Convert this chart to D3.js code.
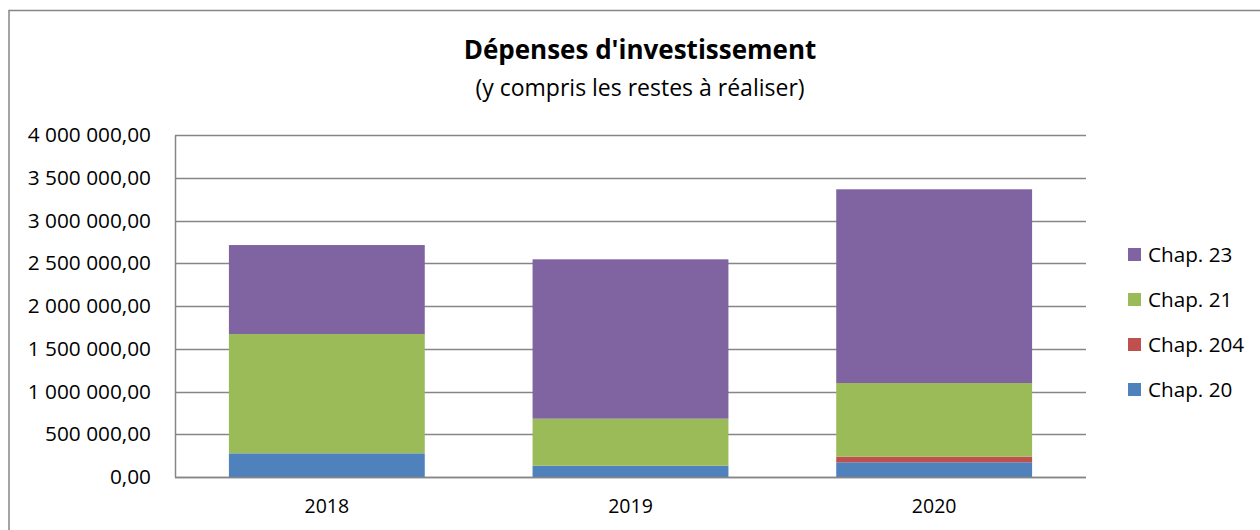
<!DOCTYPE html>
<html>
<head>
<meta charset="utf-8">
<script src="https://cdn.jsdelivr.net/npm/d3@7"></script>
<style>
  html, body { margin: 0; padding: 0; background: #fff; }
  svg { display: block; font-family: "Open Sans", sans-serif; }
</style>
</head>
<body>
<svg id="chart" width="1260" height="530"></svg>
<script>
const categories = ["2018", "2019", "2020"];
const seriesNames = ["Chap. 20", "Chap. 204", "Chap. 21", "Chap. 23"];
const chap20  = [277000, 132000, 172000];
const chap204 = [0, 0, 65000];
const chap21  = [1395000, 550000, 862000];
const chap23  = [1041000, 1864000, 2266000];
const colors = ["#4F81BD", "#C0504D", "#9BBB59", "#8064A2"];
const yTicks = [0, 500000, 1000000, 1500000, 2000000, 2500000, 3000000, 3500000, 4000000];
const title = "Dépenses d'investissement";
const subtitle = "(y compris les restes à réaliser)";

const table = categories.map((c, i) => ({
  cat: c,
  "Chap. 20": chap20[i],
  "Chap. 204": chap204[i],
  "Chap. 21": chap21[i],
  "Chap. 23": chap23[i]
}));

const svg = d3.select("#chart");
const margin = { left: 175, right: 1086, top: 135, bottom: 477 };

// outer border
svg.append("path")
  .attr("d", "M9,540 V10.5 H1270")
  .attr("fill", "none").attr("stroke", "#868686").attr("stroke-width", 1.5);

const x = d3.scaleBand().domain(categories).range([margin.left, margin.right]).paddingInner(0.355).paddingOuter(0.1775);
const y = d3.scaleLinear().domain([0, 4000000]).range([margin.bottom, margin.top]);

const fmt = v => {
  const s = d3.format(",.2f")(v);
  return s.replace(/,/g, " ").replace(".", ",");
};

// y axis
const yAxis = d3.axisLeft(y).tickValues(yTicks).tickSize(0).tickPadding(24).tickFormat(fmt);
const gy = svg.append("g").attr("transform", `translate(${margin.left},0)`).call(yAxis);
gy.select(".domain").attr("stroke", "#868686").attr("stroke-width", 1.5);
gy.selectAll("text").attr("font-size", 20.8).attr("fill", "#000").attr("font-family", "Open Sans");

// gridlines
svg.append("g").selectAll("line").data(yTicks).join("line")
  .attr("x1", margin.left).attr("x2", margin.right)
  .attr("y1", d => Math.round(y(d)) + 0.5).attr("y2", d => Math.round(y(d)) + 0.5)
  .attr("stroke", "#868686").attr("stroke-width", 1.5);

// stacked bars
const stack = d3.stack().keys(seriesNames);
const stacked = stack(table);
svg.append("g").selectAll("g").data(stacked).join("g")
  .attr("fill", (d, i) => colors[i])
  .selectAll("rect").data(d => d).join("rect")
  .attr("x", d => x(d.data.cat))
  .attr("width", x.bandwidth())
  .attr("y", d => y(d[1]))
  .attr("height", d => Math.max(0, y(d[0]) - y(d[1])));

// x axis
const xAxis = d3.axisBottom(x).tickSize(0).tickPadding(22);
const gx = svg.append("g").attr("transform", `translate(0,${margin.bottom})`).call(xAxis);
gx.select(".domain").attr("stroke", "#868686").attr("stroke-width", 1.5).attr("d", `M${margin.left},0.5H${margin.right}`);
gx.selectAll("text").attr("font-size", 19.5).attr("fill", "#000").attr("font-family", "Open Sans");

// title
svg.append("text").attr("x", 640).attr("y", 59).attr("text-anchor", "middle")
  .attr("font-size", 26).attr("font-weight", "bold").text(title);
svg.append("text").attr("x", 640).attr("y", 96).attr("text-anchor", "middle")
  .attr("font-size", 23).text(subtitle);

// legend (reverse order)
const legendItems = seriesNames.map((n, i) => ({ name: n, color: colors[i] })).reverse();
const lg = svg.append("g").selectAll("g").data(legendItems).join("g")
  .attr("transform", (d, i) => `translate(1128,${255 + i * 45})`);
lg.append("rect").attr("x", 0).attr("y", -7).attr("width", 13).attr("height", 13).attr("fill", d => d.color);
lg.append("text").attr("x", 20).attr("y", 0).attr("dy", "0.35em").attr("font-size", 20.7).text(d => d.name);
</script>
</body>
</html>
